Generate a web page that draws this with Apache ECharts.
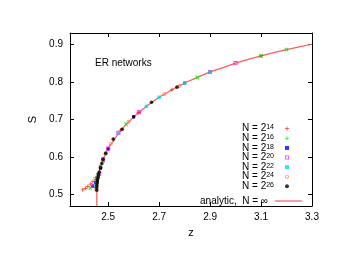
<!DOCTYPE html>
<html><head><meta charset="utf-8">
<script src="https://cdn.jsdelivr.net/npm/echarts@6/dist/echarts.min.js"></script>
<style>html,body{margin:0;padding:0;background:#fff}#c{width:341px;height:264px}</style>
</head><body><div id="c"></div>
<script>
const xTicks = [2.5, 2.7, 2.9, 3.1, 3.3];
const yTicks = [0.5, 0.6, 0.7, 0.8, 0.9];
const seriesNames = ['N = 2^14','N = 2^16','N = 2^18','N = 2^20','N = 2^22','N = 2^24','N = 2^26'];
const n14 = [[2.40,0.513],[2.41,0.517],[2.42,0.522],[2.43,0.528],[2.44,0.535],[2.45,0.545],[2.46,0.556],[2.47,0.571],[2.48,0.590],[2.50,0.621],[2.52,0.646],[2.55,0.672],[2.62,0.719],[2.75,0.779],[2.90,0.826],[3.10,0.869]];
const n16 = [[2.43,0.518],[2.44,0.526],[2.45,0.538],[2.46,0.551],[2.48,0.590],[2.57,0.688],[2.85,0.812],[3.10,0.869],[3.20,0.886]];
const n18 = [[2.44,0.522],[2.45,0.532],[2.46,0.548],[2.47,0.570],[2.50,0.622],[2.60,0.707],[2.80,0.797]];
const n20 = [[2.445,0.523],[2.455,0.535],[2.465,0.556],[2.48,0.594],[2.50,0.623],[2.54,0.665],[2.62,0.719],[2.90,0.826],[3.00,0.850]];
const n22 = [[2.45,0.525],[2.455,0.535],[2.46,0.547],[2.47,0.575],[2.49,0.610],[2.54,0.665],[2.65,0.735],[2.70,0.759],[2.80,0.797],[2.90,0.826]];
const n24 = [[2.452,0.515],[2.456,0.524],[2.46,0.547],[2.47,0.576],[2.49,0.609],[2.51,0.635],[2.58,0.694],[2.72,0.768],[2.78,0.789]];
const n26 = [[2.455,0.512],[2.455,0.518],[2.455,0.524],[2.456,0.530],[2.457,0.535],[2.458,0.540],[2.46,0.546],[2.462,0.553],[2.465,0.560],[2.47,0.572],[2.475,0.583],[2.48,0.594],[2.49,0.610],[2.52,0.648],[2.555,0.674],[2.60,0.707],[2.67,0.746],[2.77,0.786]];
const analytic = [[2.4554,0.47],[2.4554,0.5117],[2.456,0.523],[2.457,0.5325],[2.46,0.547],[2.47,0.576],[2.48,0.595],[2.50,0.6235],[2.55,0.6723],[2.60,0.7071],[2.65,0.735],[2.70,0.759],[2.75,0.779],[2.80,0.797],[2.85,0.812],[2.90,0.8265],[2.95,0.838],[3.00,0.850],[3.05,0.860],[3.10,0.869],[3.15,0.878],[3.20,0.886],[3.25,0.893],[3.30,0.900]];
const analyticName = 'analytic,  N = ∞';

const plus = 'path://M4,0H6V4H10V6H6V10H4V6H0V4H4Z';
const openSquare = 'path://M0,0H10V10H0Z M2,2V8H8V2Z';
const openCircle = 'path://M5,0A5,5 0 1 1 5,10A5,5 0 1 1 5,0Z M5,2.2A2.8,2.8 0 1 0 5,7.8A2.8,2.8 0 1 0 5,2.2Z';
const styles = [
  {symbol: plus, size: 4, color: '#ff0000', rot: 0},
  {symbol: plus, size: 5, color: '#00e000', rot: 45},
  {symbol: 'rect', size: 3, color: '#0000ff', rot: 0},
  {symbol: openSquare, size: 4, color: '#ff00ff', rot: 0},
  {symbol: 'rect', size: 3.5, color: '#00e0e0', rot: 0},
  {symbol: openCircle, size: 4, color: '#ff7f40', rot: 0},
  {symbol: 'circle', size: 3.6, color: '#000000', rot: 0}
];
const datasets = [n14, n16, n18, n20, n22, n24, n26];
const font = 'Liberation Sans, Arial, sans-serif';

const scatterSeries = datasets.map((d, i) => ({
  name: seriesNames[i], type: 'scatter', data: d,
  symbol: styles[i].symbol, symbolSize: styles[i].size, symbolRotate: styles[i].rot,
  itemStyle: {color: styles[i].color},
  z: 3 + i, silent: true
}));

const xMin = 2.35, xMax = 3.3, yMin = 0.47, yMax = 0.93;
const axisBase = (extra) => Object.assign({
  type: 'value', splitLine: {show: false},
  axisLine: {show: true, onZero: false, lineStyle: {color: '#000', width: 1}},
}, extra);

const chart = echarts.init(document.getElementById('c'), null, {renderer: 'canvas'});
chart.setOption({
  animation: false,
  backgroundColor: '#fff',
  grid: {left: 70, right: 29, top: 33, bottom: 58, containLabel: false},
  xAxis: [
    axisBase({min: xMin, max: xMax, position: 'bottom', name: 'z', nameLocation: 'middle', nameGap: 21,
      nameTextStyle: {fontFamily: font, fontSize: 11, color: '#000'},
      axisTick: {inside: true, length: 4, customValues: xTicks, lineStyle: {color: '#000'}},
      axisLabel: {customValues: xTicks, margin: 6, fontFamily: font, fontSize: 10, color: '#000', formatter: v => v.toFixed(1)}}),
    axisBase({min: xMin, max: xMax, position: 'top',
      axisTick: {inside: true, length: 4, customValues: xTicks, lineStyle: {color: '#000'}},
      axisLabel: {show: false}})
  ],
  yAxis: [
    axisBase({min: yMin, max: yMax, position: 'left', name: 'S', nameLocation: 'middle', nameGap: 32, nameRotate: 90,
      nameTextStyle: {fontFamily: font, fontSize: 11, color: '#000'},
      axisTick: {inside: true, length: 4, customValues: yTicks, lineStyle: {color: '#000'}},
      axisLabel: {customValues: yTicks, margin: 7, fontFamily: font, fontSize: 10, color: '#000', formatter: v => v.toFixed(1)}}),
    axisBase({min: yMin, max: yMax, position: 'right',
      axisTick: {inside: true, length: 4, customValues: yTicks, lineStyle: {color: '#000'}},
      axisLabel: {show: false}})
  ],
  legend: [
    {data: seriesNames.map((n, i) => ({name: n, icon: styles[i].symbol, itemStyle: {color: styles[i].color}})),
      orient: 'vertical', align: 'right', right: 47, top: 118.7,
      itemWidth: 4, itemHeight: 4, itemGap: -0.4, selectedMode: false,
      formatter: n => { const p = n.split('^'); return p[0] + '{sup|' + p[1] + '}'; },
      textStyle: {fontFamily: font, fontSize: 10, color: '#000', lineHeight: 9.4, padding: [0, 6, 0, 0],
        rich: {sup: {fontSize: 7, lineHeight: 9.4, verticalAlign: 'top', fontFamily: font, color: '#000'}}}},
    {data: [{name: analyticName, icon: 'rect', itemStyle: {color: '#ff5a5a'}}], orient: 'vertical', align: 'right', right: 34, top: 191,
      itemWidth: 27, itemHeight: 1.2, selectedMode: false,
      textStyle: {fontFamily: font, fontSize: 10, color: '#000', padding: [0, 2, 0, 0]}}
  ],
  graphic: [{type: 'text', left: 95, top: 58, style: {text: 'ER networks', font: '10px ' + font, fill: '#000'}}],
  series: [{
    name: analyticName, type: 'line', data: analytic, symbol: 'none', showSymbol: false,
    lineStyle: {color: '#ff5a5a', width: 1.2}, itemStyle: {color: '#ff5a5a'}, z: 2, silent: true, clip: true
  }].concat(scatterSeries)
});
</script></body></html>
